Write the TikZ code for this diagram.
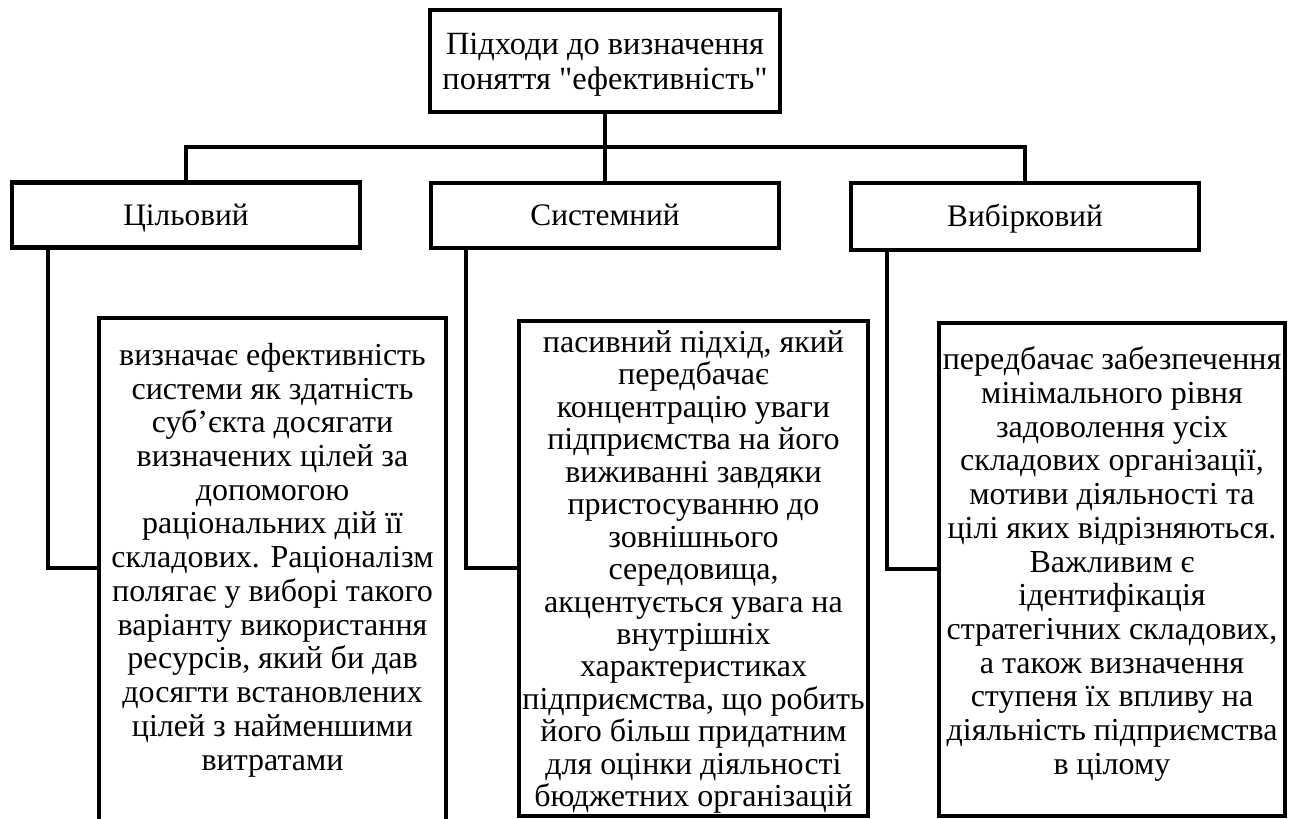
\documentclass[tikz,border=0pt]{standalone}
\usepackage{fontspec}
\setmainfont{Liberation Serif}
\newfontfamily\rawserif{Liberation Serif}
\usepackage{tikz}
\usetikzlibrary{positioning}
\definecolor{inkblack}{RGB}{0, 0, 0}

\begin{document}
\begin{tikzpicture}[x=0.75pt, y=-0.75pt,
        every path/.style     = {line width=3.6pt, color=inkblack},
        plainbox/.style       = {draw, inner sep=0pt},
        kindbox/.style        = {draw, fill=white, inner sep=0pt, minimum width=0.75*348pt,
                                 minimum height=0.75*65pt, text height=17pt, text depth=2pt,
                                 font=\fontsize{23.5}{26}\selectfont},
        headtext/.style       = {align=center, inner sep=0pt, font=\fontsize{24.3}{26.3}\selectfont},
        notetext/.style       = {align=center, inner sep=0pt, font=\fontsize{24}{25.3}\selectfont}]
    \useasboundingbox (0,0) rectangle (1299,818);

    \node[plainbox, minimum width=0.75*350pt, minimum height=0.75*102pt] (head) at ( 605, 61) {};
    \node[headtext] (headT) at ( 605, 65)
        {Підходи до визначення\\поняття {\rawserif"}ефективність{\rawserif"}};

    \node[kindbox] (goal) at ( 186, 215.0) {Цільовий};
    \node[kindbox] (syst) at ( 605, 215.5) {Системний};
    \node[kindbox, minimum height=0.75*67pt] (selc) at (1025, 216.5) {Вибірковий};

    \node[plainbox, minimum width=0.75*347pt, minimum height=0.75*520pt] (noteG) at ( 272.5, 578) {};
    \node[plainbox, minimum width=0.75*349pt, minimum height=0.75*495pt] (noteS) at ( 693.5, 568.5) {};
    \node[plainbox, minimum width=0.75*346pt, minimum height=0.75*493pt] (noteV) at (1112.0, 569.5) {};

    \node[notetext] (textG) at ( 272.5, 560) {визначає ефективність\\системи як здатність\\суб’єкта досягати\\визначених цілей за\\допомогою\\раціональних дій її\\складових. Раціоналізм\\полягає у виборі такого\\варіанту використання\\ресурсів, який би дав\\досягти встановлених\\цілей з найменшими\\витратами};
    \node[notetext, font=\fontsize{24}{24.35}\selectfont] (textS) at ( 693.5, 572) {пасивний підхід, який\\передбачає\\концентрацію уваги\\підприємства на його\\виживанні завдяки\\пристосуванню до\\зовнішнього\\середовища,\\акцентується увага на\\внутрішніх\\характеристиках\\підприємства, що робить\\його більш придатним\\для оцінки діяльності\\бюджетних організацій};
    \node[notetext] (textV) at (1112.0, 564) {передбачає забезпечення\\мінімального рівня\\задоволення усіх\\складових організації,\\мотиви діяльності та\\цілі яких відрізняються.\\Важливим є\\ідентифікація\\стратегічних складових,\\а також визначення\\ступеня їх впливу на\\діяльність підприємства\\в цілому};

    \coordinate (bar) at ( 605, 147);
    \coordinate (kneeG) at (  48, 568);
    \coordinate (kneeS) at ( 466, 568);
    \coordinate (kneeV) at ( 887, 569);

    \draw (head.south) -- (syst.north);
    \draw (goal.north) -- (goal.north |- bar) -- (selc.north |- bar) -- (selc.north);
    \draw (goal.south -| kneeG) -- (kneeG) -- (kneeG -| noteG.west);
    \draw (syst.south -| kneeS) -- (kneeS) -- (kneeS -| noteS.west);
    \draw (selc.south -| kneeV) -- (kneeV) -- (kneeV -| noteV.west);
\end{tikzpicture}
\end{document}
